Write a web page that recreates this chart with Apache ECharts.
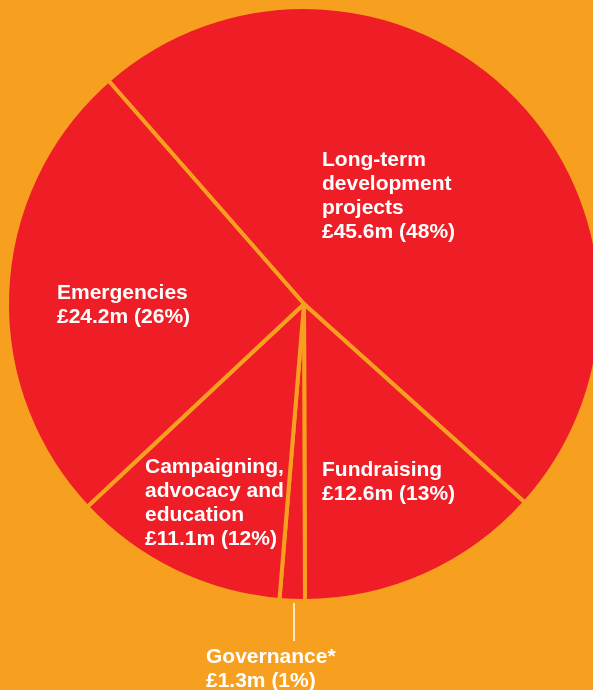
<!DOCTYPE html>
<html>
<head>
<meta charset="utf-8">
<script src="https://cdn.jsdelivr.net/npm/echarts@6/dist/echarts.min.js"></script>
<style>
  html, body { margin: 0; padding: 0; background: #F79F1E; }
  #main { width: 593px; height: 690px; }
</style>
</head>
<body>
<div id="main"></div>
<script>
const names = [
  "Long-term\ndevelopment\nprojects",
  "Fundraising",
  "Governance*",
  "Campaigning,\nadvocacy and\neducation",
  "Emergencies",
];
const amounts = [45.6, 12.6, 1.3, 11.1, 24.2];
const percents = [48, 13, 1, 12, 26];

// where each label's top-left corner sits
const labelPos = [
  [322, 148],
  [322, 458],
  [206, 645],
  [145, 455],
  [57, 281],
];

const chart = echarts.init(document.getElementById("main"));

const data = names.map((n, i) => ({
  value: amounts[i],
  name: n,
  label: { formatter: n + "\n£" + amounts[i].toFixed(1) + "m (" + percents[i] + "%)" },
}));

chart.setOption({
  backgroundColor: "#F79F1E",
  graphic: [
    {
      // leader line for the tiny governance slice
      type: "line",
      shape: { x1: 294, y1: 603, x2: 294, y2: 641 },
      style: { stroke: "#ffffff", lineWidth: 1.5 },
      silent: true,
    },
  ],
  series: [
    {
      type: "pie",
      center: [304, 304],
      radius: 297,
      startAngle: 131.2,
      clockwise: true,
      silent: true,
      animation: false,
      itemStyle: {
        color: "#EE1D26",
        borderColor: "#F79F1E",
        borderWidth: 4,
      },
      label: {
        show: true,
        position: "inside",
        color: "#ffffff",
        fontFamily: "Liberation Sans, Arial, sans-serif",
        fontWeight: "bold",
        fontSize: 21,
        lineHeight: 24,
        align: "left",
      },
      labelLine: { show: false },
      labelLayout: function (params) {
        const p = labelPos[params.dataIndex];
        return { x: p[0], y: p[1], align: "left", verticalAlign: "top" };
      },
      data: data,
    },
  ],
});
</script>
</body>
</html>
